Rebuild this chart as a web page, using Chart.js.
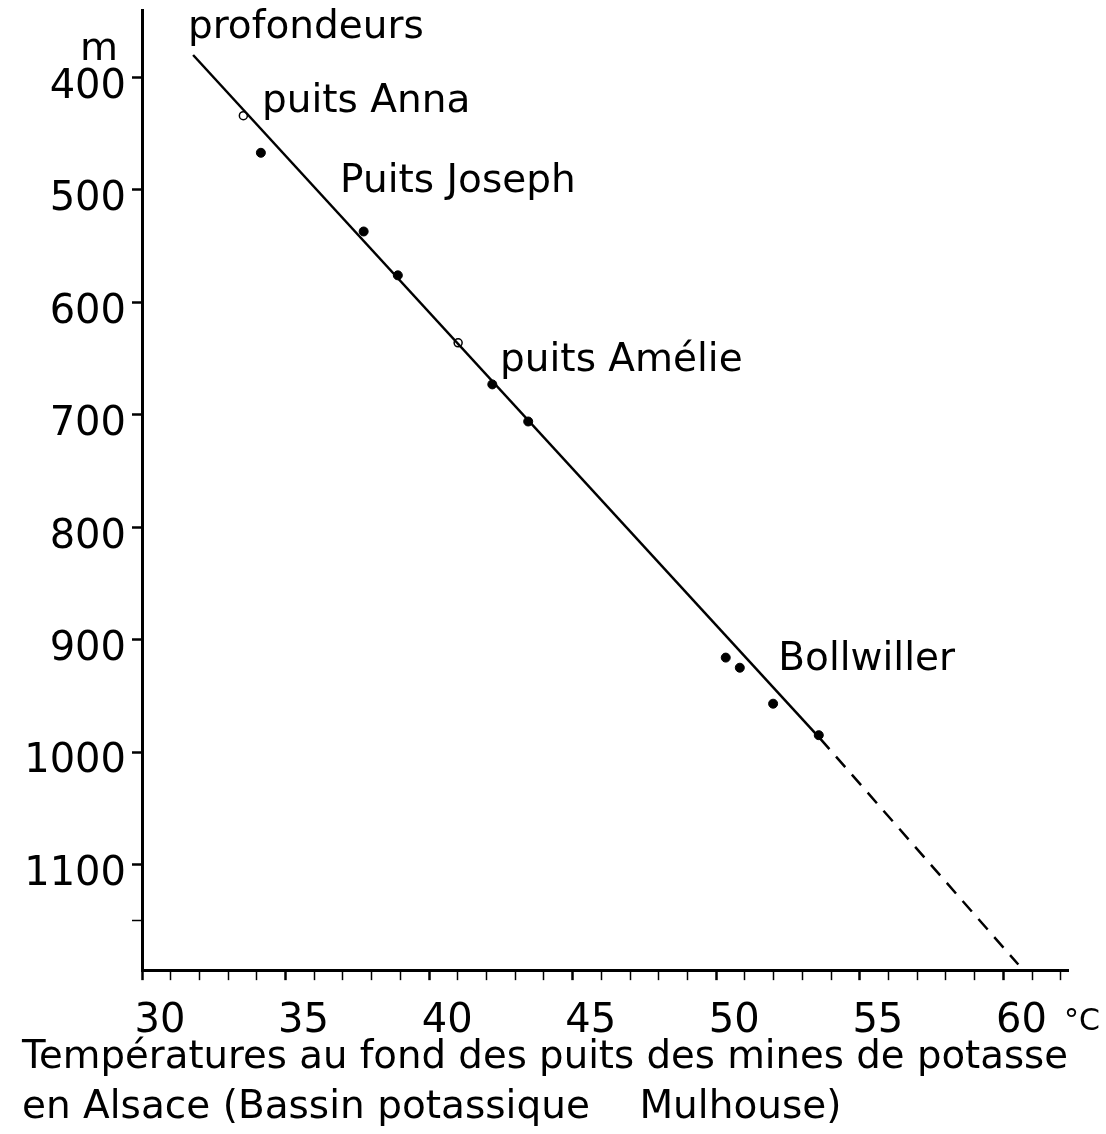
<!DOCTYPE html>
<html>
<head>
<meta charset="utf-8">
<script src="https://cdn.jsdelivr.net/npm/chart.js@4.4.0/dist/chart.umd.min.js"></script>
<style>
  html, body { margin: 0; padding: 0; background: #fff; }
  #wrap { width: 1106px; height: 1134px; position: relative; }
</style>
</head>
<body>
<div id="wrap"><canvas id="c"></canvas></div>
<script>
// ---- data ----
const filledTemps  = [34.14, 37.72, 38.91, 42.20, 43.45, 50.33, 50.82, 51.98, 53.57];
const filledDepths = [467, 537, 576, 673, 706, 916, 925, 957, 985];
const openTemps    = [33.53, 41.01];
const openDepths   = [434, 636];
const fitTemps     = [31.78, 53.62];
const fitDepths    = [380, 988];
const extTemps     = [53.62, 60.52];
const extDepths    = [988, 1189];
const xTickValues  = [30,31,32,33,34,35,36,37,38,39,40,41,42,43,44,45,46,47,48,49,50,51,52,53,54,55,56,57,58,59,60,61,62];
const yTickValues  = [400, 500, 600, 700, 800, 900, 1000, 1100, 1150];
const annotTexts   = ['profondeurs', 'puits Anna', 'Puits Joseph', 'puits Amélie', 'Bollwiller'];
const annotTemps   = [31.6, 34.18, 36.9, 42.47, 52.16];
const annotDepths  = [356, 422, 493, 652, 918];
const captionLines = ['Températures au fond des puits des mines de potasse', 'en Alsace (Bassin potassique    Mulhouse)'];
const xUnit = '°C';
const yUnit = 'm';

const FONT = 'DejaVu Sans';
const FS = 39;
const TFS = 40;

const zip = (xs, ys) => xs.map((x, i) => ({ x: x, y: ys[i] }));

const textPlugin = {
  id: 'texts',
  afterDraw(chart) {
    const ctx = chart.ctx;
    const xs = chart.scales.x, ys = chart.scales.y;
    ctx.save();
    ctx.fillStyle = '#000';
    ctx.font = FS + 'px "' + FONT + '"';
    ctx.textBaseline = 'middle';
    ctx.textAlign = 'left';
    annotTexts.forEach((t, i) => {
      ctx.fillText(t, xs.getPixelForValue(annotTemps[i]), ys.getPixelForValue(annotDepths[i]));
    });
    // units
    ctx.font = '30px "' + FONT + '"';
    ctx.fillText(xUnit, chart.chartArea.right - 4, xs.top + 52);
    ctx.font = FS + 'px "' + FONT + '"';
    ctx.textAlign = 'right';
    ctx.fillText(yUnit, ys.right - 24, ys.getPixelForValue(400) - 28);
    ctx.restore();
  }
};

new Chart(document.getElementById('c'), {
  type: 'scatter',
  data: {
    datasets: [
      {
        data: zip(fitTemps, fitDepths), showLine: true, borderColor: '#000', borderWidth: 2.5,
        pointRadius: 0, fill: false
      },
      {
        data: zip(extTemps, extDepths), showLine: true, borderColor: '#000', borderWidth: 2.5,
        borderDash: [14, 10], pointRadius: 0, fill: false
      },
      {
        data: zip(filledTemps, filledDepths), backgroundColor: '#000', borderColor: '#000',
        pointRadius: 4.5, borderWidth: 1
      },
      {
        data: zip(openTemps, openDepths), backgroundColor: '#fff', borderColor: '#000',
        pointRadius: 4, borderWidth: 1.5
      }
    ]
  },
  options: {
    responsive: true,
    maintainAspectRatio: false,
    animation: false,
    layout: { padding: { top: 10, left: 22, right: 38, bottom: 1 } },
    plugins: {
      legend: { display: false },
      tooltip: { enabled: false },
      title: {
        display: true,
        position: 'bottom',
        align: 'start',
        text: captionLines,
        color: '#000',
        font: { family: FONT, size: FS, weight: 'normal', lineHeight: 1.28 },
        padding: 0
      }
    },
    scales: {
      x: {
        type: 'linear',
        min: 30, max: 62.25,
        afterBuildTicks: s => { s.ticks = xTickValues.map(v => ({ value: v })); },
        afterFit: s => { s.height = 63; s.paddingLeft = 0; s.paddingRight = 0; },
        border: { display: true, color: '#000', width: 3 },
        grid: {
          drawOnChartArea: false, drawTicks: true, tickLength: 10,
          tickColor: '#000',
          tickWidth: c => (c.tick && c.tick.value % 5 === 0) ? 2.5 : 1.5
        },
        ticks: {
          autoSkip: false, maxRotation: 0, color: '#000', padding: 17, labelOffset: 18,
          font: { family: FONT, size: TFS },
          callback: v => (v % 5 === 0 ? String(v) : '')
        }
      },
      y: {
        type: 'linear',
        reverse: true,
        min: 340, max: 1194,
        afterBuildTicks: s => { s.ticks = yTickValues.map(v => ({ value: v })); },
        afterFit: s => { s.width = 120; s.paddingTop = 0; s.paddingBottom = 0; },
        border: { display: true, color: '#000', width: 3 },
        grid: {
          drawOnChartArea: false, drawTicks: true, tickLength: 10,
          tickColor: '#000',
          tickWidth: c => (c.tick && c.tick.value % 100 === 0) ? 2.5 : 1.5
        },
        ticks: {
          autoSkip: false, color: '#000', padding: 6, labelOffset: 10,
          font: { family: FONT, size: TFS },
          callback: v => (v % 100 === 0 ? String(v) : '')
        }
      }
    }
  },
  plugins: [textPlugin]
});
</script>
</body>
</html>
